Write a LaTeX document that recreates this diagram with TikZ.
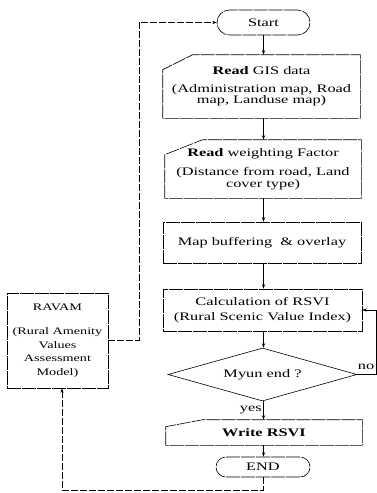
\documentclass[tikz,border=0pt]{standalone}
\usepackage{fontspec}
\setmainfont[FakeStretch=1.42]{Liberation Serif}
\usetikzlibrary{shapes.geometric,arrows.meta,calc}
\begin{document}
\begin{tikzpicture}[x=1pt,y=-1pt,
  line width=0.6pt,
  every node/.style={font=\fontsize{11.5}{11.5}\selectfont},
  boxdash/.style={dash pattern=on 14pt off 1pt},
  fbdash/.style={dash pattern=on 7pt off 2pt, line width=0.5pt},
  txtbox/.style={align=center, inner sep=0pt},
  plainbox/.style={draw, boxdash, align=center, inner sep=0pt},
  termbox/.style={draw, boxdash, inner sep=0pt},
  arr/.style={-{Stealth[length=4.5pt,width=3.2pt]}}
]
\useasboundingbox (0,0) rectangle (377,493);

% terminals
\node[termbox, rounded corners=12.5pt, minimum width=93pt, minimum height=25pt] (start) at (263.5,22.5) {Start};
\node[termbox, rounded corners=10pt, minimum width=94pt, minimum height=20pt] (end) at (263,467) {END};

% manual input boxes
\node[txtbox, minimum width=197pt, minimum height=63pt] (gis) at (261.5,86.5)
  {\textbf{Read} GIS data\\[6pt](Administration map, Road\\map, Landuse map)};
\draw[boxdash] (gis.south west) -- ([yshift=-15pt]gis.north west) -- ([xshift=30pt]gis.north west)
  -- (gis.north east) -- (gis.south east) -- cycle;

\node[txtbox, minimum width=196pt, minimum height=58pt] (wgt) at (263,169)
  {\textbf{Read} weighting Factor\\[8pt](Distance from road, Land\\cover type)};
\draw[boxdash] (wgt.south west) -- ([yshift=-15pt]wgt.north west) -- ([xshift=38pt]wgt.north west)
  -- (wgt.north east) -- (wgt.south east) -- cycle;

\node[txtbox, minimum width=196pt, minimum height=25pt] (wr) at (264,432.5) {\textbf{Write RSVI}};
\draw[boxdash] (wr.south west) -- ([yshift=-7pt]wr.north west) -- ([xshift=37pt]wr.north west)
  -- (wr.north east) -- (wr.south east) -- cycle;

% process boxes
\node[plainbox, minimum width=198pt, minimum height=41pt] (map) at (262,242.5) {Map buffering \ \& overlay};
\node[plainbox, minimum width=199pt, minimum height=42pt] (calc) at (262.5,310)
  {Calculation of RSVI\\[3pt](Rural Scenic Value Index)};

% decision
\node[draw, diamond, aspect=3.5, minimum width=189pt, minimum height=53pt, inner sep=0pt] (dia) at (262.5,374.5) {Myun end ?};

% RAVAM
\node[plainbox, minimum width=101pt, minimum height=95pt, font=\fontsize{10}{13.5}\selectfont] (rav) at (57.5,340.5)
  {RAVAM\\[11pt](Rural Amenity\\Values\\Assessment\\Model)};

% main flow
\draw[arr] (start) -- (start |- gis.north);
\draw[arr] (start |- gis.south) -- (start |- wgt.north);
\draw[arr] (start |- wgt.south) -- (start |- map.north);
\draw[arr] (start |- map.south) -- (start |- calc.north);
\draw[arr] (start |- calc.south) -- (start |- dia.north);
\draw[arr] (start |- dia.south) -- node[left, inner sep=1.5pt, pos=0.45] {yes} (start |- wr.north);
\draw[arr] (start |- wr.south) -- (start |- end.north);

% no loop
\coordinate (nocorner) at (376,374.5);
\draw[arr] (dia.east) -- (nocorner) |- (calc.east);
\node[inner sep=0pt] (nolbl) at (366,367) {no};

% RAVAM loop
\coordinate (botleft) at (62,490);
\coordinate (topleft) at (139,22.5);
\draw[fbdash, arr] (end.south) |- (botleft) -- (botleft |- rav.south);
\draw[fbdash, arr] (rav.east) -| (topleft) -- (start.west);
\end{tikzpicture}
\end{document}
